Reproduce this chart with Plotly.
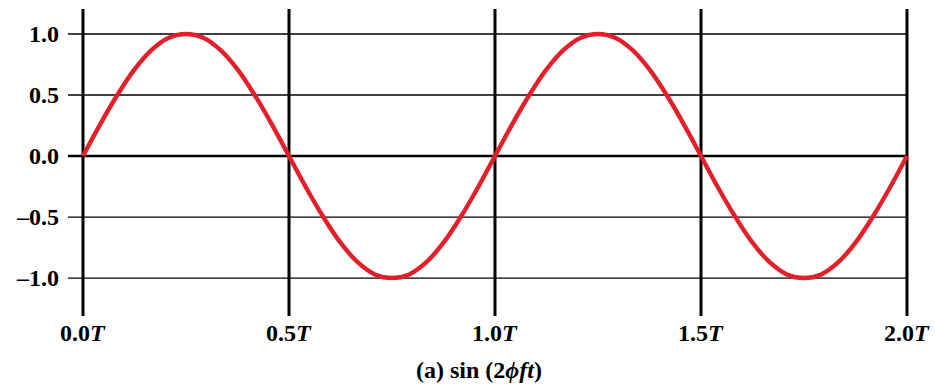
import plotly.graph_objects as go

# Time axis in units of the period T, sampled every T/24
t_period = [k / 24 for k in range(49)]
amplitude = [
    0.00, 0.26, 0.50, 0.71, 0.87, 0.97, 1.00, 0.97, 0.87, 0.71, 0.50, 0.26,
    0.00, -0.26, -0.50, -0.71, -0.87, -0.97, -1.00, -0.97, -0.87, -0.71, -0.50, -0.26,
    0.00, 0.26, 0.50, 0.71, 0.87, 0.97, 1.00, 0.97, 0.87, 0.71, 0.50, 0.26,
    0.00, -0.26, -0.50, -0.71, -0.87, -0.97, -1.00, -0.97, -0.87, -0.71, -0.50, -0.26,
    0.00,
]

x_ticks = [0.0, 0.5, 1.0, 1.5, 2.0]
x_tick_labels = ["0.0<i>T</i>", "0.5<i>T</i>", "1.0<i>T</i>", "1.5<i>T</i>", "2.0<i>T</i>"]
y_ticks = [1.0, 0.5, 0.0, -0.5, -1.0]
y_tick_labels = ["1.0", "0.5", "0.0", "\u20130.5", "\u20131.0"]

FONT = "Liberation Serif"
FSIZE = 24

fig = go.Figure()

fig.add_trace(go.Scatter(
    x=t_period, y=amplitude, mode="lines",
    line=dict(color="#e3202a", width=4.4, shape="spline", smoothing=1.0),
    hoverinfo="skip", showlegend=False,
))

# Heavy vertical rules at every half period
for xv in x_ticks:
    fig.add_shape(type="line", xref="x", yref="paper", x0=xv, x1=xv, y0=0, y1=1,
                  line=dict(color="black", width=3), layer="below")

# Horizontal reference lines, reaching slightly past the left rule
for yv in y_ticks:
    fig.add_shape(type="line", xref="paper", yref="y", x0=0, x1=(2.0 + 0.0364) / 2.0437,
                  y0=yv, y1=yv,
                  line=dict(color="black", width=2.6 if yv == 0 else 1.3), layer="below")

# Time tick labels under the plot
for xv, lab in zip(x_ticks, x_tick_labels):
    fig.add_annotation(x=xv, y=0, xref="x", yref="paper", yanchor="middle", yshift=-17,
                       text=lab, showarrow=False,
                       font=dict(family=FONT, size=FSIZE, color="black", weight="bold"))

fig.add_annotation(x=0.96, y=0, xref="x", yref="paper", yanchor="middle", yshift=-54,
                   text="(a) sin (2<i>\u03d5ft</i>)", showarrow=False,
                   font=dict(family=FONT, size=FSIZE, color="black", weight="bold"))

fig.update_layout(
    width=935, height=389,
    margin=dict(l=68, r=25, t=9, b=73),
    paper_bgcolor="white", plot_bgcolor="white",
    xaxis=dict(range=[-0.0364, 2.0073], showgrid=False, zeroline=False,
               showticklabels=False, fixedrange=True),
    yaxis=dict(range=[-1.311, 1.205], showgrid=False, zeroline=False,
               tickvals=y_ticks, ticktext=y_tick_labels,
               tickfont=dict(family=FONT, size=FSIZE, color="black", weight="bold"),
               ticks="", ticklabelstandoff=8, fixedrange=True),
)

fig.write_html("out.html")
